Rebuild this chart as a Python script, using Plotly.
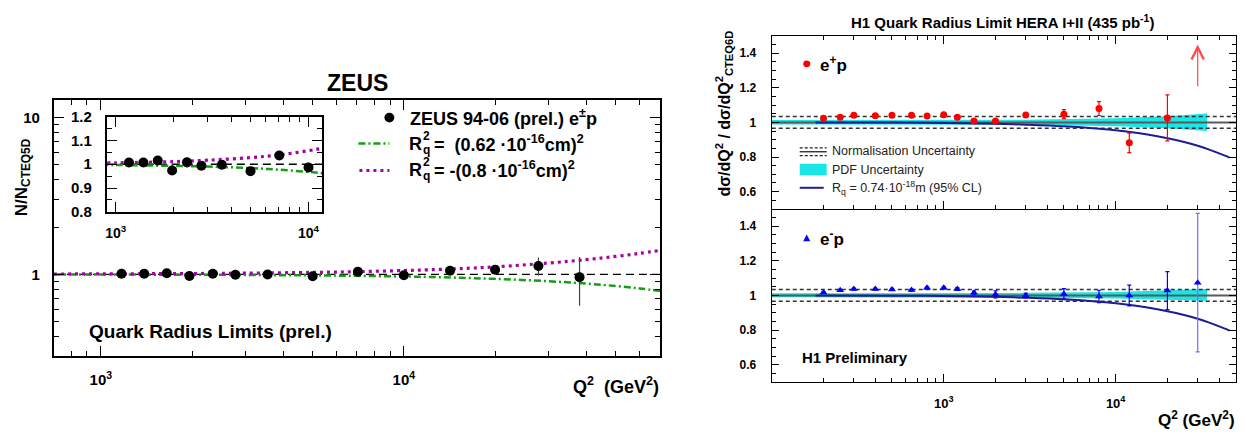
import numpy as np
import plotly.graph_objects as go

W, H = 1251, 439
FONT = "Liberation Sans, Arial, Helvetica, sans-serif"

# ---------------- ZEUS (left) data ----------------
zeus_q2 = [1170, 1390, 1650, 1960, 2340, 2780, 3550, 5000, 7050, 10000, 14200, 20000, 27800, 38000]
zeus_ratio = [1.007, 1.007, 1.016, 0.974, 1.008, 0.994, 0.998, 0.971, 1.037, 0.986, 1.054, 1.068, 1.130, 0.959]
zeus_err = [0.004, 0.004, 0.005, 0.005, 0.006, 0.006, 0.007, 0.009, 0.015, 0.020, 0.025, 0.045, 0.150, 0.330]

curve_q2 = [700, 1000, 2000, 3000, 5000, 7000, 10000, 12000, 15000, 20000, 30000, 40000, 50000, 60000, 70000]
curve_pos = [0.998, 0.997, 0.993, 0.990, 0.984, 0.977, 0.968, 0.962, 0.951, 0.935, 0.903, 0.872, 0.842, 0.812, 0.783]
curve_neg = [1.004, 1.006, 1.011, 1.017, 1.028, 1.039, 1.057, 1.068, 1.085, 1.115, 1.180, 1.240, 1.300, 1.360, 1.420]

# ---------------- H1 (right) data ----------------
h1_q2 = [200, 250, 300, 400, 500, 650, 800, 1000, 1200, 1500, 2000, 3000, 5000, 8000, 12000, 20000, 30000]
ep_ratio = [1.024, 1.030, 1.041, 1.039, 1.041, 1.041, 1.037, 1.044, 1.030, 1.009, 1.009, 1.043, 1.048, 1.080, 0.882, 1.026]
ep_err_up = [0.005, 0.005, 0.005, 0.005, 0.005, 0.006, 0.006, 0.006, 0.007, 0.008, 0.009, 0.010, 0.026, 0.040, 0.056, 0.133]
ep_err_dn = [0.005, 0.005, 0.005, 0.005, 0.005, 0.006, 0.006, 0.006, 0.007, 0.008, 0.009, 0.010, 0.026, 0.040, 0.056, 0.132]
ep_limit_from = 1.20
ep_limit_to = 1.45

em_ratio = [1.017, 1.030, 1.037, 1.037, 1.035, 1.031, 1.044, 1.044, 1.037, 1.015, 1.006, 1.000, 1.009, 0.994, 1.000, 1.028, 1.074]
em_err = [0.005, 0.005, 0.005, 0.005, 0.006, 0.006, 0.007, 0.007, 0.008, 0.010, 0.020, 0.012, 0.030, 0.036, 0.060, 0.110, 0.400]

band_q2 = [100, 1000, 3000, 10000, 20000, 34000]
ep_band_up = [1.014, 1.014, 1.016, 1.024, 1.036, 1.052]
ep_band_dn = [0.988, 0.988, 0.986, 0.978, 0.966, 0.950]
em_band_up = [1.013, 1.013, 1.015, 1.020, 1.028, 1.037]
em_band_dn = [0.989, 0.989, 0.987, 0.982, 0.976, 0.970]

norm_up = 1.035
norm_dn = 0.967

rq_q2 = [180, 500, 1000, 2000, 3000, 5000, 8000, 10000, 15000, 20000, 25000, 30000, 35000, 40000, 46000]
rq_ratio = [1.000, 0.999, 0.997, 0.992, 0.987, 0.978, 0.964, 0.955, 0.932, 0.909, 0.887, 0.865, 0.843, 0.821, 0.797]

# ---------------- axis ranges ----------------
zeus_xrange = [np.log10(700), np.log10(70000)]
zeus_yrange = [-0.5215, 1.110]
inset_xrange = [2.9534, 4.0725]
inset_yrange = [0.8, 1.2]
h1_xrange = [2.0, 4.70]
h1_yrange = [0.5, 1.5]

GREEN = "#12a012"
MAGENTA = "#a800a8"
CYAN = "#19e6e6"
NAVY = "#1c1c96"
RED = "#ff0000"
BLUE = "#0000ff"


def dom_x(a, b):
    return [a / W, b / W]


def dom_y(top, bottom):
    return [1 - bottom / H, 1 - top / H]


fig = go.Figure()

# ---------- ZEUS main ----------
ends = [10 ** zeus_xrange[0], 10 ** zeus_xrange[1]]
fig.add_trace(go.Scatter(x=ends, y=[1, 1], mode="lines", line=dict(color="black", width=1.3, dash="8px,5px"),
                         xaxis="x", yaxis="y", hoverinfo="skip"))
fig.add_trace(go.Scatter(x=curve_q2, y=curve_pos, mode="lines", line=dict(color=GREEN, width=2.5, dash="7px,3px,2px,3px"),
                         line_shape="spline", xaxis="x", yaxis="y"))
fig.add_trace(go.Scatter(x=curve_q2, y=curve_neg, mode="lines", line=dict(color=MAGENTA, width=3.2, dash="3px,4px"),
                         line_shape="spline", xaxis="x", yaxis="y"))
fig.add_trace(go.Scatter(x=zeus_q2, y=zeus_ratio, mode="markers", marker=dict(color="black", size=10),
                         error_y=dict(type="data", array=zeus_err, color="#444", thickness=1.2, width=0),
                         xaxis="x", yaxis="y"))

# ---------- ZEUS inset ----------
iends = [10 ** inset_xrange[0], 10 ** inset_xrange[1]]
fig.add_trace(go.Scatter(x=iends, y=[1, 1], mode="lines", line=dict(color="black", width=1.3, dash="8px,5px"),
                         xaxis="x2", yaxis="y2"))
fig.add_trace(go.Scatter(x=curve_q2, y=curve_pos, mode="lines", line=dict(color=GREEN, width=2.5, dash="7px,3px,2px,3px"),
                         line_shape="spline", xaxis="x2", yaxis="y2"))
fig.add_trace(go.Scatter(x=curve_q2, y=curve_neg, mode="lines", line=dict(color=MAGENTA, width=3.2, dash="3px,4px"),
                         line_shape="spline", xaxis="x2", yaxis="y2"))
fig.add_trace(go.Scatter(x=zeus_q2, y=zeus_ratio, mode="markers", marker=dict(color="black", size=10),
                         error_y=dict(type="data", array=zeus_err, color="#444", thickness=1.2, width=0),
                         xaxis="x2", yaxis="y2"))

# ---------- H1 panels ----------
hends = [10 ** h1_xrange[0], 10 ** h1_xrange[1]]
for (xa, ya, bup, bdn) in [("x3", "y3", ep_band_up, ep_band_dn), ("x4", "y4", em_band_up, em_band_dn)]:
    fig.add_trace(go.Scatter(x=band_q2, y=bdn, mode="lines", line=dict(width=0, color=CYAN), xaxis=xa, yaxis=ya))
    fig.add_trace(go.Scatter(x=band_q2, y=bup, mode="lines", line=dict(width=0, color=CYAN), fill="tonexty",
                             fillcolor=CYAN, xaxis=xa, yaxis=ya))
    for nv in (norm_up, norm_dn):
        fig.add_trace(go.Scatter(x=hends, y=[nv, nv], mode="lines", line=dict(color="#333", width=1.5, dash="4px,3px"),
                                 xaxis=xa, yaxis=ya))
    fig.add_trace(go.Scatter(x=hends, y=[1, 1], mode="lines", line=dict(color="#5a5a5a", width=2), xaxis=xa, yaxis=ya))
    fig.add_trace(go.Scatter(x=rq_q2, y=rq_ratio, mode="lines", line=dict(color=NAVY, width=2), line_shape="spline",
                             xaxis=xa, yaxis=ya))

n_ep = len(ep_ratio)
fig.add_trace(go.Scatter(x=h1_q2[:n_ep], y=ep_ratio, mode="markers", marker=dict(color=RED, size=7),
                         error_y=dict(type="data", symmetric=False, array=ep_err_up, arrayminus=ep_err_dn,
                                      color=RED, thickness=1.2, width=2),
                         xaxis="x3", yaxis="y3"))
fig.add_trace(go.Scatter(x=h1_q2[:-1], y=em_ratio[:-1], mode="markers",
                         marker=dict(color=BLUE, size=7, symbol="triangle-up"),
                         error_y=dict(type="data", array=em_err[:-1], color=BLUE, thickness=1.2, width=2),
                         xaxis="x4", yaxis="y4"))
fig.add_trace(go.Scatter(x=h1_q2[-1:], y=em_ratio[-1:], mode="markers",
                         marker=dict(color=BLUE, size=7, symbol="triangle-up"),
                         error_y=dict(type="data", array=em_err[-1:], color="#6f6fff", thickness=1.2, width=2),
                         xaxis="x4", yaxis="y4"))

# ---------- axes ----------
def axis_base(size=14, lw=2):
    return dict(showline=True, linecolor="black", linewidth=lw, mirror="ticks", ticks="inside",
                tickcolor="black", showgrid=False, zeroline=False,
                tickfont=dict(family=FONT, size=size, color="black", weight="bold"))


dec_minor = lambda lo, hi: [m * 10 ** e for e in range(lo, hi + 1) for m in range(2, 10)]

ax_x = axis_base(15)
ax_x.update(type="log", domain=dom_x(52, 659), range=zeus_xrange, anchor="y",
            tickvals=[1000, 10000], ticktext=["10<sup>3</sup>", "10<sup>4</sup>"], ticklen=10, tickwidth=1.2,
            ticklabelstandoff=9,
            minor=dict(tickvals=dec_minor(2, 4), ticks="inside", ticklen=5, tickcolor="black", tickwidth=1.2))
ax_y = axis_base(15)
ax_y.update(type="log", domain=dom_y(95, 361), range=zeus_yrange, anchor="x",
            tickvals=[1, 10], ticktext=["1", "10"], ticklen=10, tickwidth=1.2, ticklabelstandoff=9,
            minor=dict(tickvals=[0.3, 0.4, 0.5, 0.6, 0.7, 0.8, 0.9] + dec_minor(0, 0) + [20],
                       ticks="inside", ticklen=5, tickcolor="black", tickwidth=1.2))

ax_x2 = axis_base(14)
ax_x2.update(type="log", domain=dom_x(105, 321), range=inset_xrange, anchor="y2",
             tickvals=[1000, 10000], ticktext=["10<sup>3</sup>", "10<sup>4</sup>"], ticklen=10, tickwidth=1.2,
             ticklabelstandoff=7,
             minor=dict(tickvals=dec_minor(2, 3), ticks="inside", ticklen=5, tickcolor="black", tickwidth=1.2))
ax_y2 = axis_base(15)
ax_y2.update(domain=dom_y(112, 211), range=inset_yrange, anchor="x2",
             tickvals=[0.8, 0.9, 1.0, 1.1, 1.2], ticktext=["0.8", "0.9", "1", "1.1", "1.2"],
             ticklen=10, tickwidth=1.2, ticklabelstandoff=10,
             minor=dict(dtick=0.05, ticks="inside", ticklen=5, tickcolor="black", tickwidth=1.2))

h1_minor_x = dec_minor(2, 4)
ax_x3 = axis_base(13, 1.3)
ax_x3.update(type="log", domain=dom_x(771, 1236), range=h1_xrange, anchor="y3", matches="x4",
             tickvals=[1000, 10000], showticklabels=False, ticklen=8, tickwidth=1.2,
             minor=dict(tickvals=h1_minor_x, ticks="inside", ticklen=4, tickcolor="black", tickwidth=1.2))
ax_x4 = axis_base(13, 1.3)
ax_x4.update(type="log", domain=dom_x(771, 1236), range=h1_xrange, anchor="y4", mirror=False,
             tickvals=[1000, 10000], ticktext=["10<sup>3</sup>", "10<sup>4</sup>"], ticklen=8, tickwidth=1.2,
             ticklabelstandoff=9,
             minor=dict(tickvals=h1_minor_x, ticks="inside", ticklen=4, tickcolor="black", tickwidth=1.2))
h1_ticks = [0.6, 0.8, 1.0, 1.2, 1.4]
h1_ticktext = ["0.6", "0.8", "1", "1.2", "1.4"]
ax_y3 = axis_base(12, 1.3)
ax_y3.update(domain=dom_y(28, 208), range=h1_yrange, anchor="x3", tickvals=h1_ticks, ticktext=h1_ticktext,
             ticklen=7, tickwidth=1.2, ticklabelstandoff=12,
             minor=dict(dtick=0.05, ticks="inside", ticklen=4, tickcolor="black", tickwidth=1.2))
ax_y4 = axis_base(12, 1.3)
ax_y4.update(domain=dom_y(208, 388), range=h1_yrange, anchor="x4", tickvals=h1_ticks, ticktext=h1_ticktext,
             ticklen=7, tickwidth=1.2, ticklabelstandoff=12,
             minor=dict(dtick=0.05, ticks="inside", ticklen=4, tickcolor="black", tickwidth=1.2))

fig.update_layout(xaxis=ax_x, yaxis=ax_y, xaxis2=ax_x2, yaxis2=ax_y2,
                  xaxis3=ax_x3, yaxis3=ax_y3, xaxis4=ax_x4, yaxis4=ax_y4)


# ---------- annotations ----------
def ann(x, y, text, size, bold=True, xanchor="left", yanchor="middle", angle=0, color="black"):
    return dict(x=x / W, y=1 - y / H, xref="paper", yref="paper", text=text, showarrow=False,
                xanchor=xanchor, yanchor=yanchor, textangle=angle, borderpad=0,
                font=dict(family=FONT, size=size, color=color, weight="bold" if bold else "normal"))


anns = [
    ann(356, 77, "ZEUS", 23, xanchor="center"),
    ann(21, 175, "N/N<sub>CTEQ5D</sub>", 17, xanchor="center", angle=-90),
    ann(86, 335, "Quark Radius Limits (prel.)", 19),
    ann(659, 392, "Q<sup>2</sup>  (GeV<sup>2</sup>)", 18, xanchor="right"),
    ann(408, 113, "ZEUS 94-06 (prel.) e<sup>±</sup>p", 18),
    ann(407, 140, "R", 18),
    ann(421, 132, "2", 12),
    ann(421, 147, "q", 12),
    ann(432, 140, "=  (0.62 ·10<sup>-16</sup>cm)<sup>2</sup>", 18),
    ann(407, 167, "R", 18),
    ann(421, 159, "2", 12),
    ann(421, 174, "q", 12),
    ann(432, 167, "= -(0.8 ·10<sup>-16</sup>cm)<sup>2</sup>", 18),
    # H1
    ann(1002, 13, "H1 Quark Radius Limit HERA I+II (435 pb<sup>-1</sup>)", 15, xanchor="center"),
    ann(723, 109, "dσ/dQ<sup>2</sup> / dσ/dQ<sup>2</sup><sub>CTEQ6D</sub>", 16, xanchor="center", angle=-90),
    ann(818, 57, "e<sup>+</sup>p", 17),
    ann(818, 238, "e<sup>-</sup>p", 17),
    ann(800, 363, "H1 Preliminary", 15),
    ann(1236, 427, "Q<sup>2</sup> (GeV<sup>2</sup>)", 17, xanchor="right"),
    ann(830, 148, "Normalisation Uncertainty", 12.5, bold=False, color="#222"),
    ann(830, 167, "PDF Uncertainty", 12.5, bold=False, color="#222"),
    ann(830, 186, "R<sub>q</sub> = 0.74·10<sup>-18</sup>m (95% CL)", 12.5, bold=False, color="#222"),
]
# upper limit arrow for the last e+p bin
lim_x = np.log10(h1_q2[-1])
anns.append(dict(x=lim_x, y=ep_limit_to, ax=lim_x, ay=ep_limit_from, xref="x3", yref="y3", axref="x3", ayref="y3",
                 text="", showarrow=True, arrowhead=5, arrowsize=2.0, arrowwidth=1.2, arrowcolor="#ff4a4a"))


# ---------- legend shapes (paper coords) ----------
def px(x):
    return x / W


def py(y):
    return 1 - y / H


shapes = [
    dict(type="circle", xref="paper", yref="paper", x0=px(383), x1=px(393), y0=py(118), y1=py(108),
         fillcolor="black", line=dict(width=0)),
    dict(type="line", xref="paper", yref="paper", x0=px(357), x1=px(388), y0=py(140), y1=py(140),
         line=dict(color=GREEN, width=2.5, dash="7px,3px,2px,3px")),
    dict(type="line", xref="paper", yref="paper", x0=px(358), x1=px(388), y0=py(168), y1=py(168),
         line=dict(color=MAGENTA, width=3.2, dash="3px,4px")),
    # H1 legend
    dict(type="line", xref="paper", yref="paper", x0=px(799), x1=px(826), y0=py(144.5), y1=py(144.5),
         line=dict(color="#222", width=1.3, dash="3px,2px")),
    dict(type="line", xref="paper", yref="paper", x0=px(799), x1=px(826), y0=py(148.5), y1=py(148.5),
         line=dict(color="#222", width=1.3)),
    dict(type="line", xref="paper", yref="paper", x0=px(799), x1=px(826), y0=py(152.5), y1=py(152.5),
         line=dict(color="#222", width=1.3, dash="3px,2px")),
    dict(type="rect", xref="paper", yref="paper", x0=px(799), x1=px(826), y0=py(173), y1=py(161),
         fillcolor=CYAN, line=dict(width=0)),
    dict(type="line", xref="paper", yref="paper", x0=px(799), x1=px(823), y0=py(186), y1=py(186),
         line=dict(color=NAVY, width=2)),
    dict(type="circle", xref="paper", yref="paper", x0=px(802.5), x1=px(809.5), y0=py(60.5), y1=py(53.5),
         fillcolor=RED, line=dict(width=0)),
    dict(type="path", xref="paper", yref="paper",
         path=f"M {px(802.5)} {py(241.5)} L {px(809.5)} {py(241.5)} L {px(806)} {py(234.5)} Z",
         fillcolor=BLUE, line=dict(width=0)),
]

fig.update_layout(
    width=W, height=H, margin=dict(l=0, r=0, t=0, b=0),
    paper_bgcolor="white", plot_bgcolor="rgba(0,0,0,0)",
    showlegend=False, annotations=anns, shapes=shapes,
    font=dict(family=FONT, color="black"),
)

fig.write_html("out.html")
